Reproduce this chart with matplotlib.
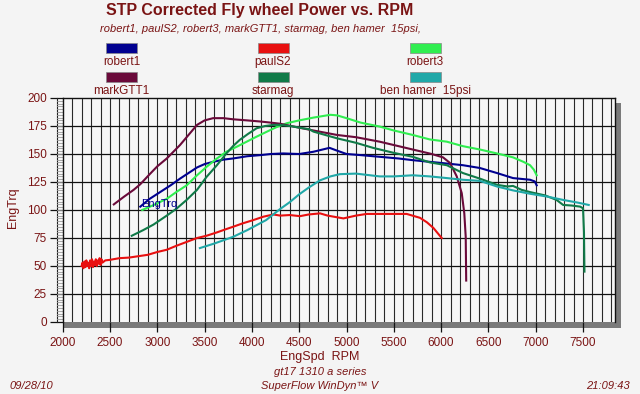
import matplotlib
matplotlib.use("Agg")
import matplotlib.pyplot as plt
from matplotlib.patches import Rectangle
from matplotlib.lines import Line2D
import numpy as np

plt.rcParams['font.family'] = ['Liberation Sans', 'DejaVu Sans']

# ---------------- data ----------------
robert1_rpm = [2820, 2920, 3030, 3140, 3240, 3330, 3420, 3500, 3590, 3700, 3800, 3950, 4090, 4200, 4330,
               4500, 4650, 4820, 4900, 5000, 5150, 5350, 5550, 5700, 5880, 6060, 6230, 6410, 6590, 6760,
               6940, 6990, 7010]
robert1_trq = [103, 110, 116, 122, 128, 133, 138, 141, 143, 145, 146, 148, 149, 150, 150.5,
               150, 152, 155.5, 153, 150, 149, 147.5, 146, 144.5, 143, 141.5, 140, 137.5, 133, 128.5,
               127, 125.5, 122]

paulS2_rpm = [2200, 2210, 2220, 2230, 2240, 2250, 2260, 2270, 2280, 2290, 2300, 2310, 2320, 2330, 2340,
              2350, 2360, 2370, 2380, 2390, 2400, 2410, 2420,
              2450, 2500, 2600, 2700, 2820, 2900, 3000, 3100, 3200, 3310, 3420, 3520, 3630,
              3730, 3800, 3900, 4015, 4120, 4226, 4300, 4400, 4508, 4600, 4720, 4800, 4967, 5100, 5213,
              5400, 5636, 5777, 5850, 5918, 6006]
paulS2_trq = [50, 53, 48, 54, 49, 55, 50, 53, 48, 55, 50, 56, 49, 54, 51,
              56, 50, 55, 52, 57, 51, 56, 53,
              55, 55.5, 57, 57.5, 59, 60, 62.5, 64.5, 68, 71.5, 75, 77, 80,
              83, 85, 88, 91, 94, 96, 95, 95.5, 94.5, 96, 97, 95, 92.5, 95, 96.5,
              96.5, 96.5, 93, 89, 84, 75]

robert3_rpm = [2840, 2950, 3100, 3200, 3310, 3420, 3520, 3630, 3730, 3840, 3945, 4050, 4160, 4260, 4370,
               4500, 4650, 4830, 4900, 5000, 5150, 5350, 5500, 5700, 5880, 6060, 6230, 6410, 6590, 6760,
               6870, 6940, 6980, 7010]
robert3_trq = [100, 104, 110, 116, 122, 131, 138.5, 146, 152, 156.5, 161, 165.5, 170, 174, 177.5,
               180, 182.5, 185, 184.5, 182, 178, 174.5, 171, 167, 163, 161, 157, 154, 150.5, 147,
               143, 140, 136, 131]

markGTT1_rpm = [2540, 2650, 2750, 2820, 2920, 3000, 3100, 3240, 3420, 3500, 3590, 3700, 3800, 3950, 4090,
                4200, 4300, 4470, 4650, 4900, 5100, 5350, 5550, 5700, 5900, 6020, 6094, 6165, 6218, 6245,
                6260, 6265]
markGTT1_trq = [105, 112, 118, 123, 132, 139, 146, 158, 176, 180, 182, 182, 181, 180, 179,
                178, 177, 174, 171, 167, 165, 161, 157, 154, 150, 147, 142, 130, 115, 97,
                76, 37]

starmag_rpm = [2730, 2850, 2960, 3100, 3200, 3310, 3420, 3520, 3630, 3730, 3800, 3870, 3960, 4050, 4140,
               4230, 4300, 4400, 4610, 4650, 4900, 5100, 5280, 5500, 5700, 5880, 6060, 6230, 6410, 6590,
               6700, 6760, 6850, 6940, 7100, 7220, 7290, 7380, 7470, 7500, 7510, 7515]
starmag_trq = [77, 82, 87, 95, 101, 109, 118, 129.5, 140, 150.5, 157, 162.5, 168, 173, 175,
               176, 176, 175, 172, 170, 164, 160, 155.5, 151, 147.5, 142.5, 140, 133, 128, 122.5,
               121, 121.5, 118, 116, 113, 109, 104.5, 104, 103, 101.5, 80, 45]

benhamer_rpm = [3450, 3600, 3800, 3950, 4150, 4300, 4400, 4500, 4600, 4720, 4830, 4930, 5100, 5250, 5350,
                5500, 5700, 5880, 6060, 6230, 6410, 6590, 6760, 6940, 7120, 7290, 7450, 7560]
benhamer_trq = [66, 70, 76, 82, 91, 101, 107, 114, 120, 126.5, 130, 132, 132.5, 131, 130,
                130, 131, 130, 128.5, 127, 126, 121, 117.5, 114.5, 112, 109, 106.5, 104.5]

series_names = ["robert1", "paulS2", "robert3", "markGTT1", "starmag", "ben hamer  15psi"]
series_colors = ["#000090", "#e81010", "#30ee50", "#6a0a3a", "#107a48", "#20a8a8"]
x_ticks = [2000, 2500, 3000, 3500, 4000, 4500, 5000, 5500, 6000, 6500, 7000, 7500]
y_ticks = [0, 25, 50, 75, 100, 125, 150, 175, 200]

series = [(robert1_rpm, robert1_trq), (paulS2_rpm, paulS2_trq), (robert3_rpm, robert3_trq),
          (markGTT1_rpm, markGTT1_trq), (starmag_rpm, starmag_trq), (benhamer_rpm, benhamer_trq)]

# ---------------- figure ----------------
W, H = 640, 394
BG = "#f4f4f4"
TXT = "#7a1414"
fig = plt.figure(figsize=(W / 100, H / 100), dpi=100, facecolor=BG)

L, R, T, B = 62.7, 615.2, 98.0, 322.0
ax = fig.add_axes([L / W, 1 - B / H, (R - L) / W, (B - T) / H], facecolor="#f7f7f7")
ax.set_xlim(2000, 7840)
ax.set_ylim(0, 200)

# grid
for xv in range(2100, 7840, 100):
    ax.axvline(xv, color="#2a2a2a", lw=0.8, zorder=1)
for yv in y_ticks[1:-1]:
    ax.axhline(yv, color="#111111", lw=0.9, zorder=1)

for sp in ["left", "top", "right"]:
    ax.spines[sp].set_color("#111111")
    ax.spines[sp].set_linewidth(1.0)
ax.spines["bottom"].set_visible(False)

ax.set_xticks(x_ticks)
ax.set_yticks(y_ticks)
ax.tick_params(axis="x", direction="out", length=7.5, width=0.9, color="#111111",
               labelsize=8.5, labelcolor=TXT, pad=3)
ax.tick_params(axis="y", direction="out", length=9.5, width=0.9, color="#111111",
               labelsize=8.5, labelcolor=TXT, pad=2)

# shadow bars (bottom and right)
px_w = 1.0 / (R - L)
px_h = 1.0 / (B - T)
ax.add_patch(Rectangle((0, -6 * px_h), 1 + 6 * px_w, 6 * px_h, transform=ax.transAxes,
                       facecolor="#7a7a7a", edgecolor="none", clip_on=False, zorder=0.5))
ax.add_patch(Rectangle((1 + 0.5 * px_w, -6 * px_h), 5.5 * px_w, 1 + 1 * px_h, transform=ax.transAxes,
                       facecolor="#7a7a7a", edgecolor="none", clip_on=False, zorder=0.5))
# left minor-tick strip
ax.add_patch(Rectangle((-6 * px_w, 0), 6 * px_w, 1, transform=ax.transAxes,
                       facecolor="#f7f7f7", edgecolor="none", clip_on=False, zorder=0.5))
ax.add_line(Line2D([-6 * px_w, -6 * px_w], [0, 1], transform=ax.transAxes, color="#222222",
                   lw=0.8, clip_on=False))
for yv in np.arange(2.5, 200, 2.5):
    ax.add_line(Line2D([-6 * px_w, 0], [yv / 200, yv / 200], transform=ax.transAxes,
                       color="#9a9a9a", lw=0.6, clip_on=False))

# curves
for (xs, ys), c in zip(series, series_colors):
    ax.plot(xs, ys, color=c, lw=1.5, zorder=3, solid_joinstyle="round")

ax.text(2825, 105.5, "EngTrq", color="#000090", fontsize=8, va="center", ha="left", zorder=4)

# axis labels
fig.text(13 / W, 1 - 208 / H, "EngTrq", rotation=90, color=TXT, fontsize=9, ha="center", va="center")
fig.text(320 / W, 1 - 357 / H, "EngSpd  RPM", color=TXT, fontsize=9, ha="center", va="center")

# titles
fig.text(260 / W, 1 - 11 / H, "STP Corrected Fly wheel Power vs. RPM", color=TXT, fontsize=11.5,
         fontweight="bold", ha="center", va="center")
fig.text(260 / W, 1 - 29 / H, "robert1, paulS2, robert3, markGTT1, starmag, ben hamer  15psi,",
         color=TXT, fontsize=8, style="italic", ha="center", va="center")

# legend
col_x = [121.5, 273.0, 425.0]
sw_y = [43, 72]
lab_y = [62, 91]
for i, (name, c) in enumerate(zip(series_names, series_colors)):
    r, k = divmod(i, 3)
    cx = col_x[k]
    fig.patches.append(Rectangle(((cx - 15.5) / W, 1 - (sw_y[r] + 10) / H), 31 / W, 10 / H,
                                 transform=fig.transFigure, facecolor=c, edgecolor="#888888",
                                 lw=0.5, figure=fig))
    fig.text(cx / W, 1 - lab_y[r] / H, name, color=TXT, fontsize=8.5, ha="center", va="center")

# footer
fig.text(320 / W, 1 - 372 / H, "gt17 1310 a series", color=TXT, fontsize=8, style="italic",
         ha="center", va="center")
fig.text(320 / W, 1 - 386 / H, "SuperFlow WinDyn\u2122 V", color=TXT, fontsize=8, style="italic",
         ha="center", va="center")
fig.text(10 / W, 1 - 386 / H, "09/28/10", color=TXT, fontsize=8, style="italic", ha="left", va="center")
fig.text(630 / W, 1 - 386 / H, "21:09:43", color=TXT, fontsize=8, style="italic", ha="right", va="center")

fig.savefig("out.png", dpi=100, facecolor=BG)
